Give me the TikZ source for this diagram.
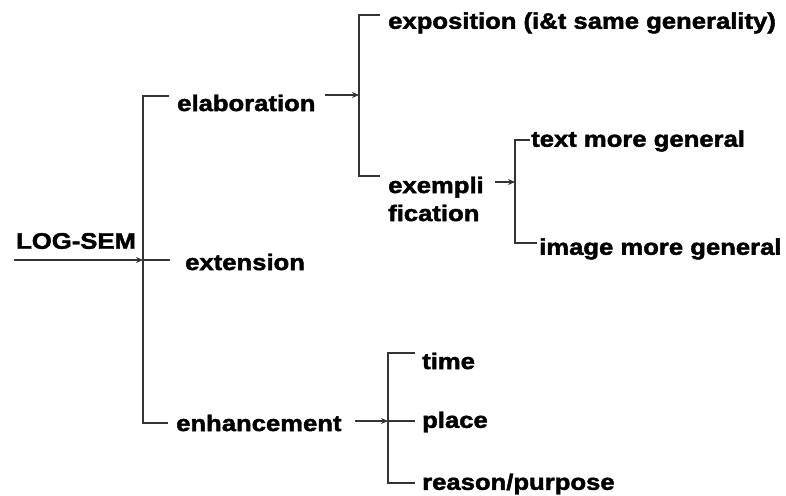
\documentclass[tikz,border=0pt]{standalone}
\usepackage{fontspec}
\setmainfont{Liberation Sans}
\newfontfamily\heavy[FakeBold=2,FakeStretch=1.14]{Liberation Sans Bold}
\usetikzlibrary{arrows.meta}
\begin{document}
\begin{tikzpicture}[x=1pt,y=-1pt,
  lbl/.style={anchor=west, inner sep=0pt, align=left,
    font=\heavy\fontsize{22.5}{28}\selectfont},
  br/.style={line width=1.4pt, draw=black!80},
  arr/.style={br, -{Stealth[length=7pt,width=6pt]}}]
\useasboundingbox (0,0) rectangle (786,495);

% labels
\node[lbl] (logsem) at (16,241) {LOG-SEM};
\node[lbl] (elab)   at (177,103) {elaboration};
\node[lbl] (ext)    at (185,262) {extension};
\node[lbl] (enh)    at (176,423) {enhancement};
\node[lbl] (expo)   at (388,23)  {exposition (i\&t same generality)};
\node[lbl] (exem)   at (388,199) {exempli\\fication};
\node[lbl] (tmg)    at (531,141) {text more general};
\node[lbl] (img)    at (539,249) {image more general};
\node[lbl] (time)   at (422,361) {time};
\node[lbl] (place)  at (422,422) {place};
\node[lbl] (reason) at (422,484) {reason/purpose};

% branch points and line ends
\coordinate (in)  at (14,260);
\coordinate (j1)  at (143,260);
\coordinate (a2)  at (325,95);
\coordinate (j2)  at (359,95);
\coordinate (a3)  at (495,182);
\coordinate (j3)  at (515,182);
\coordinate (a4)  at (355,421);
\coordinate (j4)  at (388,421);

% LOG-SEM system
\draw[arr] (in) -- (j1);
\draw[br] ([shift={(-8pt,7pt)}]elab.west) -| (j1) |- ([shift={(-8pt,0pt)}]enh.west);
\draw[br] (j1) -- ([xshift=-15pt]ext.west |- j1);

% elaboration
\draw[arr] (a2) -- (j2);
\draw[br] ([shift={(-8pt,8pt)}]expo.west) -| (j2) |- ([shift={(-8pt,23pt)}]exem.west);

% exemplification
\draw[arr] (a3) -- (j3);
\draw[br] ([shift={(-1pt,1pt)}]tmg.west) -| (j3) |- ([shift={(-2pt,6pt)}]img.west);

% enhancement
\draw[arr] (a4) -- (j4);
\draw[br] ([shift={(-7pt,8pt)}]time.west) -| (j4) |- ([shift={(-7pt,1pt)}]reason.west);
\draw[br] (j4) -- ([xshift=-7pt]place.west |- j4);
\end{tikzpicture}
\end{document}
